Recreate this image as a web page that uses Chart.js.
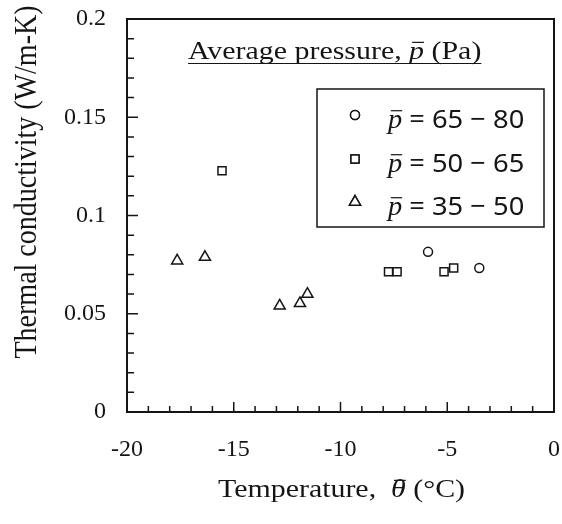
<!DOCTYPE html>
<html>
<head>
<meta charset="utf-8">
<script src="https://cdn.jsdelivr.net/npm/chart.js@4.4.0/dist/chart.umd.min.js"></script>
<style>
html, body { margin: 0; padding: 0; background: #fff; }
</style>
</head>
<body>
<canvas id="thermal_chart" width="562" height="524"></canvas>
<script>
// data
const seriesNames = ['65 \u2212 80', '50 \u2212 65', '35 \u2212 50'];
const seriesStyles = ['circle', 'rect', 'triangle'];
const circleTemp = [-5.9, -3.5];
const circleK = [0.0815, 0.0733];
const squareTemp = [-15.55, -7.75, -7.35, -5.15, -4.7];
const squareK = [0.1228, 0.0714, 0.0714, 0.0714, 0.0733];
const triangleTemp = [-17.65, -16.35, -12.85, -11.9, -11.55];
const triangleK = [0.077, 0.0788, 0.054, 0.0553, 0.06];
const xTickLabels = ['-20', '-15', '-10', '-5', '0'];
const yTickLabels = ['0', '0.05', '0.1', '0.15', '0.2'];

const INK = '#151515';
const SERIF = "'Liberation Serif', 'Times New Roman', serif";
const SANS = "'Noto Sans', 'DejaVu Sans', sans-serif";
const STRETCH = 1.15; // the scanned text is a bit wide
const pointSizes = { circle: 4.5, rect: 5.7, triangle: 6.4 };

function to_points(xs, ys) {
    return xs.map((x, i) => ({ x: x, y: ys[i] }));
}

function make_dataset(name, xs, ys, style) {
    return {
        label: name,
        data: to_points(xs, ys),
        pointStyle: style,
        pointRadius: pointSizes[style],
        pointBackgroundColor: '#fff',
        pointBorderColor: INK,
        pointBorderWidth: 1.5,
        showLine: false
    };
}

// italic letter with a bar over it, returns the x after the letter
function bar_letter(ctx, ch, x, y, size) {
    ctx.font = 'italic ' + size + 'px ' + SERIF;
    const w = ctx.measureText(ch).width;
    ctx.fillText(ch, x, y);
    ctx.beginPath();
    ctx.lineWidth = 1.2;
    ctx.moveTo(x + w * 0.2, y - size * 0.64);
    ctx.lineTo(x + w * 1.0, y - size * 0.64);
    ctx.stroke();
    return x + w;
}

// plain text / barred letter pieces drawn in a row, in local coords
function text_run(ctx, parts, size) {
    let x = 0;
    parts.forEach(p => {
        if (p.bar) {
            x = bar_letter(ctx, p.bar, x, 0, size);
        } else {
            ctx.font = (p.font || (size + 'px ' + SERIF));
            ctx.fillText(p.text, x, 0);
            x += ctx.measureText(p.text).width;
        }
    });
    return x;
}

const frame_plugin = {
    id: 'frame_plugin',
    afterDraw(chart) {
        const ctx = chart.ctx;
        const a = chart.chartArea;
        const xs = chart.scales.x, ys = chart.scales.y;
        ctx.save();
        ctx.strokeStyle = INK;
        ctx.fillStyle = INK;

        // box
        ctx.lineWidth = 2;
        ctx.strokeRect(a.left, a.top, a.right - a.left, a.bottom - a.top);

        // inward ticks, bottom and left only
        ctx.lineWidth = 1.5;
        ctx.beginPath();
        for (let i = 1; i < 20; i++) {
            const px = xs.getPixelForValue(-20 + i);
            const len = i % 5 == 0 ? 10 : 6;
            ctx.moveTo(px, a.bottom);
            ctx.lineTo(px, a.bottom - len);
        }
        for (let i = 1; i < 20; i++) {
            const py = ys.getPixelForValue(i * 0.01);
            const len = i % 5 == 0 ? 11 : 7;
            ctx.moveTo(a.left, py);
            ctx.lineTo(a.left + len, py);
        }
        ctx.stroke();

        ctx.textBaseline = 'alphabetic';
        ctx.textAlign = 'left';

        // heading with underline
        ctx.save();
        ctx.translate(188, 59);
        ctx.scale(STRETCH, 1);
        const hw = text_run(ctx, [{ text: 'Average pressure, ' }, { bar: 'p' }, { text: ' (Pa)' }], 26);
        ctx.lineWidth = 1.2;
        ctx.beginPath();
        ctx.moveTo(0, 4.5);
        ctx.lineTo(hw, 4.5);
        ctx.stroke();
        ctx.restore();

        // legend box
        ctx.lineWidth = 1.5;
        ctx.strokeRect(317, 89, 227, 138);
        const rowBase = [128, 172, 215];
        seriesNames.forEach((name, i) => {
            const style = seriesStyles[i];
            ctx.fillStyle = '#fff';
            ctx.lineWidth = 1.5;
            Chart.helpers.drawPoint(ctx, {
                pointStyle: style,
                radius: pointSizes[style],
                borderWidth: 1.5,
                rotation: 0
            }, 355, rowBase[i] - 13);
            ctx.fill();
            ctx.stroke();
            ctx.fillStyle = INK;
            ctx.save();
            ctx.translate(388, rowBase[i]);
            ctx.scale(1.05, 1);
            text_run(ctx, [{ bar: 'p' }, { text: ' = ' + name, font: '26px ' + SANS }], 27);
            ctx.restore();
        });

        // x axis title
        ctx.save();
        ctx.translate(218, 497);
        ctx.scale(STRETCH, 1);
        text_run(ctx, [{ text: 'Temperature,  ' }, { bar: '\u03b8' }, { text: ' (\u00b0C)' }], 26);
        ctx.restore();

        // y axis title
        ctx.save();
        ctx.translate(28, 182);
        ctx.rotate(-Math.PI / 2);
        ctx.scale(1, 1.1);
        ctx.textAlign = 'center';
        ctx.textBaseline = 'middle';
        ctx.font = '28px ' + SERIF;
        ctx.fillText('Thermal conductivity (W/m-K)', 0, 0);
        ctx.restore();

        ctx.restore();
    }
};

// tick marks are kept invisible, they only push the labels off the axis
const hiddenGrid = (len) => ({
    display: true,
    drawOnChartArea: false,
    drawTicks: true,
    tickLength: len,
    tickColor: 'rgba(0,0,0,0)'
});

const ctx = document.getElementById('thermal_chart').getContext('2d');

new Chart(ctx, {
    type: 'scatter',
    data: {
        datasets: [
            make_dataset(seriesNames[0], circleTemp, circleK, 'circle'),
            make_dataset(seriesNames[1], squareTemp, squareK, 'rect'),
            make_dataset(seriesNames[2], triangleTemp, triangleK, 'triangle')
        ]
    },
    options: {
        responsive: false,
        animation: false,
        layout: { padding: { top: 19, right: 7, left: 0, bottom: 0 } },
        plugins: {
            legend: { display: false },
            tooltip: { enabled: false }
        },
        scales: {
            x: {
                type: 'linear',
                min: -20,
                max: 0,
                grid: hiddenGrid(21),
                border: { display: false },
                ticks: {
                    stepSize: 5,
                    color: INK,
                    padding: 2,
                    font: { family: SERIF, size: 24 },
                    callback: (v, i) => xTickLabels[i]
                },
                afterFit: (scale) => { scale.height = 112; }
            },
            y: {
                min: 0,
                max: 0.2,
                grid: hiddenGrid(19),
                border: { display: false },
                ticks: {
                    stepSize: 0.05,
                    color: INK,
                    padding: 2,
                    font: { family: SERIF, size: 24 },
                    callback: (v, i) => yTickLabels[i]
                },
                afterFit: (scale) => { scale.width = 127; }
            }
        }
    },
    plugins: [frame_plugin]
});
</script>
</body>
</html>
